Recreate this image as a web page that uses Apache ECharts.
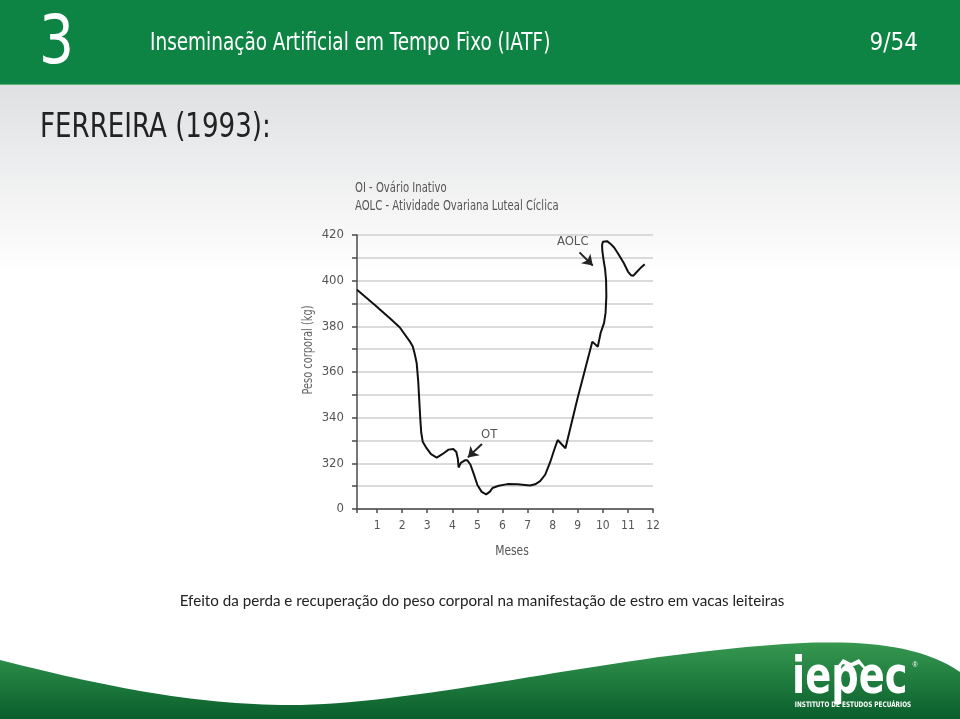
<!DOCTYPE html>
<html><head><meta charset="utf-8">
<script src="https://cdn.jsdelivr.net/npm/echarts@6/dist/echarts.min.js"></script>
<style>html,body{margin:0;padding:0;background:#fff}#c{width:960px;height:719px}</style>
</head><body><div id="c"></div>
<script>
// ---- data ----
const months = [0.2, 0.9, 1.51, 1.9, 2.31, 2.42, 2.5, 2.58, 2.64, 2.68, 2.72, 2.76, 2.82, 2.95, 3.15, 3.38, 3.6, 3.85, 4.04, 4.16, 4.22, 4.25, 4.34, 4.5, 4.6, 4.72, 4.85, 5.0, 5.17, 5.35, 5.5, 5.6, 5.85, 6.2, 6.6, 6.9, 7.1, 7.3, 7.5, 7.7, 7.9, 8.05, 8.2, 8.51, 8.98, 9.58, 9.8, 9.91, 10.05, 10.11, 10.14, 10.13, 10.09, 10.03, 9.98, 9.97, 10.0, 10.06, 10.17, 10.3, 10.45, 10.6, 10.84, 11.0, 11.12, 11.22, 11.35, 11.5, 11.67];
const weights = [396, 389.5, 383.5, 379.6, 373.3, 371.3, 368, 363.8, 356, 348, 340, 333.5, 329.5, 327, 324, 322.5, 324, 326, 326.3, 325, 322, 318.2, 320.2, 321.3, 321.3, 319.5, 315.5, 310.5, 307.5, 306.4, 307.6, 309.2, 310.2, 310.9, 310.8, 310.5, 310.3, 310.8, 312.2, 315, 320.5, 325.5, 330.2, 326.6, 348, 373.3, 371.1, 377, 381.5, 386, 393, 400, 405, 409, 413, 415.5, 417, 417.6, 417.3, 416.2, 414.5, 412, 407.6, 404, 402.4, 402.2, 403.8, 405.5, 407.2];
const xTickValues = [0.2, 1, 2, 3, 4, 5, 6, 7, 8, 9, 10, 11, 12];
const xLabelValues = [1, 2, 3, 4, 5, 6, 7, 8, 9, 10, 11, 12];
const yTickValues = [300, 310, 320, 330, 340, 350, 360, 370, 380, 390, 400, 410, 420];
const yLabelValues = [300, 320, 340, 360, 380, 400, 420];
const yLabelTexts = ['0', '320', '340', '360', '380', '400', '420'];
const annotationNames = ['OT', 'AOLC'];
const annotationTextAt = [[5.47, 332.4], [8.8, 417.1]];
const annotationArrowFrom = [[5.18, 328.5], [9.07, 412.4]];
const annotationArrowTo = [[4.62, 322.6], [9.6, 406.6]];

const COND = "'DejaVu Sans Condensed','Liberation Sans Narrow',sans-serif";

// decorative swoosh outline (bezier segments sampled into a polygon)
function bezierPoints(segs, n) {
  const pts = [];
  segs.forEach((s, si) => {
    for (let k = (si === 0 ? 0 : 1); k <= n; k++) {
      const t = k / n, u = 1 - t;
      pts.push([
        u*u*u*s[0][0] + 3*u*u*t*s[1][0] + 3*u*t*t*s[2][0] + t*t*t*s[3][0],
        u*u*u*s[0][1] + 3*u*u*t*s[1][1] + 3*u*t*t*s[2][1] + t*t*t*s[3][1]
      ]);
    }
  });
  return pts;
}
const swoosh = bezierPoints([
  [[0, 660], [110, 688], [200, 705], [290, 705]],
  [[290, 705], [400, 705], [560, 668], [700, 652]],
  [[700, 652], [790, 642], [900, 630], [960, 672]]
], 30).concat([[960, 719], [0, 719]]);

const chart = echarts.init(document.getElementById('c'), null, {renderer: 'canvas'});

chart.setOption({
  animation: false,
  grid: {left: 357, right: 307, top: 235, bottom: 210},
  xAxis: {
    type: 'value', min: 0.2, max: 12,
    axisLine: {show: true, lineStyle: {color: '#4a4a4a', width: 1.5}},
    axisTick: {show: true, customValues: xTickValues, length: 4, lineStyle: {color: '#4a4a4a', width: 1.5}},
    axisLabel: {customValues: xLabelValues, color: '#555', fontSize: 12, fontFamily: COND, margin: 11},
    splitLine: {show: false}
  },
  yAxis: {
    type: 'value', min: 300, max: 420, interval: 10,
    axisLine: {show: true, lineStyle: {color: '#4a4a4a', width: 1.5}},
    axisTick: {show: true, customValues: yTickValues, length: 5, lineStyle: {color: '#4a4a4a', width: 1.5}},
    axisLabel: {customValues: yLabelValues, color: '#555', fontSize: 13, fontFamily: COND, margin: 13,
      formatter: v => { const i = yLabelValues.indexOf(v); return i >= 0 ? yLabelTexts[i] : ''; }},
    splitLine: {show: true, lineStyle: {color: '#cfcfcf', width: 1.5}}
  },
  series: [{
    type: 'line',
    data: months.map((m, i) => [m, weights[i]]),
    showSymbol: false,
    smooth: false,
    lineStyle: {color: '#111', width: 2},
    markLine: {
      silent: true,
      symbol: ['none', 'arrow'],
      symbolSize: 10,
      label: {show: false},
      lineStyle: {color: '#222', width: 2, type: 'solid'},
      data: annotationArrowFrom.map((f, i) => [{coord: f}, {coord: annotationArrowTo[i]}])
    },
    markPoint: {
      silent: true,
      symbol: 'rect', symbolSize: 1,
      itemStyle: {color: 'rgba(0,0,0,0)'},
      label: {show: true, position: 'inside', formatter: p => p.name, color: '#555', fontSize: 13, fontFamily: COND},
      data: annotationNames.map((n, i) => ({name: n, coord: annotationTextAt[i]}))
    }
  }],
  graphic: [
    {type: 'rect', z: -10, shape: {x: 0, y: 84, width: 960, height: 635},
      style: {fill: new echarts.graphic.LinearGradient(0, 0, 0, 1, [
        {offset: 0, color: '#dfe0e2'}, {offset: 0.3, color: '#ffffff'}, {offset: 1, color: '#ffffff'}])}},
    {type: 'rect', shape: {x: 0, y: 0, width: 960, height: 84}, style: {fill: '#0e8444'}},
    {type: 'rect', shape: {x: 0, y: 84, width: 960, height: 1}, style: {fill: '#5fb27a'}},
    {type: 'text', x: 39, y: 45, scaleX: 0.9, style: {text: '3', fill: '#fff', font: '68px ' + COND, verticalAlign: 'middle'}},
    {type: 'text', x: 150, y: 44, scaleX: 0.855, style: {text: 'Inseminação Artificial em Tempo Fixo (IATF)', fill: '#fff', font: '24px ' + COND, verticalAlign: 'middle'}},
    {type: 'text', x: 918, y: 44, style: {text: '9/54', fill: '#fff', font: '24px ' + COND, align: 'right', verticalAlign: 'middle'}},
    {type: 'text', x: 40, y: 128, scaleX: 0.88, style: {text: 'FERREIRA (1993):', fill: '#222', font: '33px ' + COND, verticalAlign: 'middle'}},
    {type: 'text', x: 355, y: 188, scaleX: 0.8, style: {text: 'OI - Ovário Inativo', fill: '#555', font: '14px ' + COND, verticalAlign: 'middle'}},
    {type: 'text', x: 355, y: 206, scaleX: 0.8, style: {text: 'AOLC - Atividade Ovariana Luteal Cíclica', fill: '#555', font: '14px ' + COND, verticalAlign: 'middle'}},
    {type: 'text', x: 308, y: 350, rotation: Math.PI / 2, scaleX: 0.78, style: {text: 'Peso corporal (kg)', fill: '#666', font: '14px ' + COND, align: 'center', verticalAlign: 'middle'}},
    {type: 'text', x: 512, y: 551, scaleX: 0.85, style: {text: 'Meses', fill: '#555', font: '14px ' + COND, align: 'center', verticalAlign: 'middle'}},
    {type: 'text', x: 482, y: 601, style: {text: 'Efeito da perda e recuperação do peso corporal na manifestação de estro em vacas leiteiras', fill: '#222', font: '15.2px Lato, sans-serif', align: 'center', verticalAlign: 'middle'}},
    {type: 'polygon', shape: {points: swoosh},
      style: {fill: new echarts.graphic.LinearGradient(0, 0, 0, 1, [
        {offset: 0, color: '#379850'}, {offset: 0.45, color: '#217f40'}, {offset: 1, color: '#0a5e2c'}])}},
    {type: 'text', x: 792, y: 679, scaleX: 0.82, style: {text: 'iepec', fill: '#fff', font: 'bold 52px ' + COND, verticalAlign: 'middle'}},
    {type: 'polygon', shape: {points: [[836, 668], [843, 659], [851, 663], [859, 659], [866, 668], [866, 671], [859, 664], [851, 667], [843, 664], [836, 671]]}, style: {fill: '#fff'}},
    {type: 'text', x: 853, y: 705, scaleX: 0.85, style: {text: 'INSTITUTO DE ESTUDOS PECUÁRIOS', fill: '#fff', font: 'bold 7.5px ' + COND, align: 'center', verticalAlign: 'middle'}},
    {type: 'text', x: 915, y: 665, style: {text: '®', fill: '#fff', font: '7px sans-serif', align: 'center', verticalAlign: 'middle'}}
  ]
});
</script></body></html>
